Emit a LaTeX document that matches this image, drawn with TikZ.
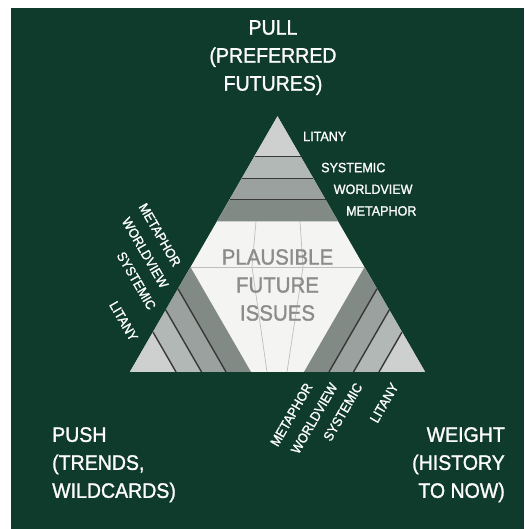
\documentclass[tikz,border=0pt]{standalone}
\usepackage{fontspec}
\setmainfont{Liberation Sans}[FakeStretch=0.93, FakeBold=1.3]

\definecolor{board}{HTML}{0F3B2C}
\definecolor{litany}{HTML}{CDD0CE}
\definecolor{systemic}{HTML}{B2B8B5}
\definecolor{worldview}{HTML}{9AA19E}
\definecolor{metaphor}{HTML}{828A86}
\definecolor{hex}{HTML}{F4F4F2}

\begin{document}
\begin{tikzpicture}[x=1pt, y=1pt,
        divider/.style={draw=black!78, line width=1.4pt},
        faint/.style={draw=black!25, line width=0.7pt},
        lbl/.style={text=white, inner sep=0pt, font=\fontsize{13.5}{14}\selectfont},
        big/.style={text=white, inner sep=0pt, font=\fontsize{21}{28}\selectfont}
    ]
    \useasboundingbox (0,0) rectangle (524,529);
    \fill[board] (11,0) rectangle (524,521);
    % triangle with the pale middle
    \fill[hex] (130,157) -- (425,157) -- (277.5,412.5) -- cycle;
    \draw[faint] (190.5,262) -- (364.5,262);
    \draw[faint] (256,307.5) -- (252,262) -- (267,157);
    \draw[faint] (300,307.5) -- (303,262) -- (287,157);
    % the same four layers in every corner
    \foreach \ang/\tilt/\side in {0/0/west, 120/-60/east, 240/60/east}{
        \begin{scope}[shift={(277.5,242.2)}, rotate=\ang]
            \foreach \len/\tone in {121/metaphor, 96/worldview, 71.5/systemic, 46/litany}
                \fill[\tone] (0,170.3) -- ++(-120:\len) -- ++(0:\len) -- cycle;
            \foreach \len in {46, 71.5, 96}
                \draw[divider] (0,170.3) ++(-120:\len) -- ++(0:\len);
            \foreach \mid/\word in {23/LITANY, 59/SYSTEMIC, 84/WORLDVIEW, 109/METAPHOR}
                \path (0,170.3) ++(-60:\mid) ++(14,0)
                    node[lbl, rotate=\tilt, anchor=\side] (\word-\ang) {\word};
        \end{scope}
    }
    \node (issues) [align=center, text=black!45, inner sep=0pt, font=\fontsize{22}{28}\selectfont]
        at (277.5,244) {PLAUSIBLE\\FUTURE\\ISSUES};
    \node (pull) [big, align=center, anchor=north] at (273,509) {PULL\\(PREFERRED\\FUTURES)};
    \node (push) [big, align=left, anchor=north west] at (52,102) {PUSH\\(TRENDS,\\WILDCARDS)};
    \node (weight) [big, align=right, anchor=north east] at (505,102) {WEIGHT\\(HISTORY\\TO NOW)};
\end{tikzpicture}
\end{document}
